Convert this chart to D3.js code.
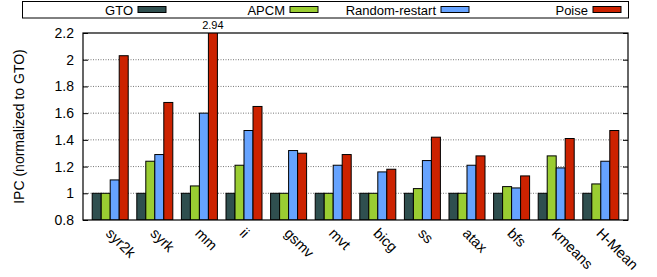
<!DOCTYPE html>
<html>
<head>
  <meta charset="utf-8">
  <title>IPC normalized to GTO</title>
  <style>
    body { margin: 0; background: #fff; }
    svg { font-family: "Liberation Sans", Arial, sans-serif; }
    .grid line { stroke: #777; stroke-dasharray: 1,1.5; stroke-width: 1; }
    .bar { stroke: #000; stroke-width: 1; }
  </style>
</head>
<body>
  <svg width="657" height="277"></svg>
  <script src="https://d3js.org/d3.v7.min.js"></script>
  <script>
    // benchmarks and series
    var categories = ['syr2k', 'syrk', 'mm', 'ii', 'gsmv', 'mvt', 'bicg', 'ss', 'atax', 'bfs', 'kmeans', 'H-Mean'];
    var seriesNames = ['GTO', 'APCM', 'Random-restart', 'Poise'];
    var gto = [1, 1, 1, 1, 1, 1, 1, 1, 1, 1, 1, 1];
    var apcm = [1.0, 1.24, 1.055, 1.21, 1.0, 1.0, 1.0, 1.035, 1.0, 1.05, 1.28, 1.07];
    var randomRestart = [1.10, 1.29, 1.60, 1.47, 1.32, 1.21, 1.16, 1.245, 1.21, 1.04, 1.19, 1.24];
    var poise = [2.03, 1.68, 2.94, 1.65, 1.30, 1.29, 1.18, 1.42, 1.28, 1.13, 1.41, 1.47];
    var yTicks = [0.8, 1, 1.2, 1.4, 1.6, 1.8, 2, 2.2];
    var colors = ['#2f4f4f', '#9acd32', '#66a3ff', '#cc2200'];

    var allSeries = [gto, apcm, randomRestart, poise];

    var svg = d3.select('svg');
    // plot area edges (note: "top" is a reserved window property)
    var plotL = 83, plotR = 628, plotT = 33, plotB = 220;

    var x = d3.scalePoint().domain(categories).range([plotL, plotR]).padding(0.61);
    var sub = d3.scaleBand().domain(d3.range(4)).range([-18, 18]);
    var y = d3.scaleLinear().domain([0.8, 2.2]).range([plotB, plotT]);

    // grid lines
    svg.append('g').attr('class', 'grid')
      .selectAll('line').data(yTicks.filter(function(d) { return d > 0.8 && d < 2.2; }))
      .join('line')
      .attr('x1', plotL).attr('x2', plotR)
      .attr('y1', function(d) { return y(d); }).attr('y2', function(d) { return y(d); });

    // bars, clipped to the plot area
    svg.append('clipPath').attr('id', 'plotclip')
      .append('rect').attr('x', plotL).attr('y', plotT).attr('width', plotR - plotL).attr('height', plotB - plotT);

    var barsG = svg.append('g').attr('clip-path', 'url(#plotclip)');
    allSeries.forEach(function(values, s) {
      barsG.selectAll('.bar-s' + s)
        .data(values)
        .join('rect')
        .attr('class', 'bar bar-s' + s)
        .attr('x', function(d, i) { return x(categories[i]) + sub(s); })
        .attr('width', sub.bandwidth())
        .attr('y', function(d) { return y(Math.min(d, 2.25)); })
        .attr('height', function(d) { return y(0.8) - y(Math.min(d, 2.25)); })
        .attr('fill', colors[s]);
    });

    // value label for the bar that goes off the top
    poise.forEach(function(d, i) {
      if (d > 2.2) {
        svg.append('text')
          .attr('x', x(categories[i]) + sub(3) + sub.bandwidth() / 2)
          .attr('y', plotT - 4)
          .attr('text-anchor', 'middle')
          .attr('font-size', 11)
          .text(d.toFixed(2));
      }
    });

    // axes
    var yAxis = d3.axisLeft(y).tickValues(yTicks).tickSize(-5).tickPadding(9)
      .tickFormat(function(d) { return String(+d.toFixed(1)); });
    var gy = svg.append('g').attr('transform', 'translate(' + plotL + ',0)').call(yAxis);
    gy.select('.domain').remove();
    gy.selectAll('text').attr('font-size', 14).attr('fill', '#000').attr('font-family', null);
    gy.selectAll('line').attr('stroke', '#000');

    var yRight = d3.axisRight(y).tickValues(yTicks).tickSize(-5).tickFormat('');
    var gr = svg.append('g').attr('transform', 'translate(' + plotR + ',0)').call(yRight);
    gr.select('.domain').remove();

    // frame
    svg.append('rect')
      .attr('x', plotL).attr('y', plotT).attr('width', plotR - plotL).attr('height', plotB - plotT)
      .attr('fill', 'none').attr('stroke', '#000').attr('stroke-width', 1.2);

    // x labels
    svg.append('g').selectAll('text').data(categories).join('text')
      .attr('transform', function(d) { return 'translate(' + (x(d) + 2) + ',' + (plotB + 7) + ') rotate(45)'; })
      .attr('dy', '0.7em')
      .attr('font-size', 14.5)
      .text(function(d) { return d; });

    // y label
    svg.append('text')
      .attr('transform', 'translate(24,' + ((plotT + plotB) / 2) + ') rotate(-90)')
      .attr('text-anchor', 'middle')
      .attr('font-size', 14)
      .text('IPC (normalized to GTO)');

    // legend
    svg.append('rect').attr('x', 22.5).attr('y', 1.5).attr('width', 606).attr('height', 16.5)
      .attr('fill', '#fff').attr('stroke', '#000');
    var swatchX = [138, 290, 441, 593];
    seriesNames.forEach(function(name, s) {
      svg.append('text')
        .attr('x', swatchX[s] - 5).attr('y', 14.5)
        .attr('text-anchor', 'end')
        .attr('font-size', 13)
        .text(name);
      svg.append('rect')
        .attr('x', swatchX[s]).attr('y', 6.5).attr('width', 28).attr('height', 6)
        .attr('fill', colors[s]).attr('stroke', '#000');
    });
  </script>
</body>
</html>
